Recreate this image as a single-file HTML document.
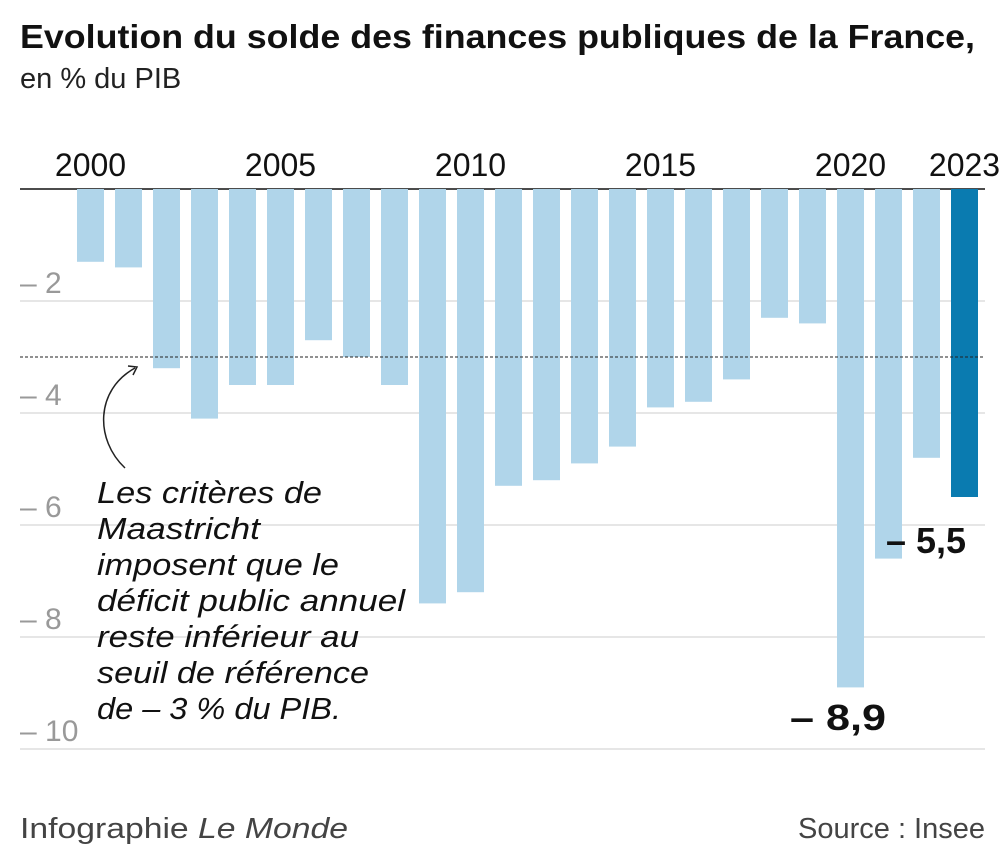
<!DOCTYPE html>
<html><head><meta charset="utf-8">
<style>
body{margin:0;background:#fff;width:1000px;height:851px;overflow:hidden;font-family:"Liberation Sans",sans-serif;}
svg{display:block}
</style></head>
<body>
<svg width="1000" height="851">
<text x="20" y="48" font-size="33" font-weight="bold" fill="#111" textLength="955" lengthAdjust="spacingAndGlyphs">Evolution du solde des finances publiques de la France,</text>
<text x="20" y="88" font-size="29" fill="#222">en % du PIB</text>
<g id="grid"></g>
<g id="bars"></g>
<g id="labels"></g>
<line x1="20" x2="985" y1="357" y2="357" stroke="#222" stroke-width="1" stroke-dasharray="3,2"/>
<path d="M125,468 C95,440 95,390 135,368" fill="none" stroke="#222" stroke-width="1.5"/>
<path d="M128,366 L137,367 L133,375" fill="none" stroke="#222" stroke-width="1.5"/>
<text font-size="31" font-style="italic" fill="#111">
<tspan x="97" y="503" textLength="225" lengthAdjust="spacingAndGlyphs">Les critères de</tspan>
<tspan x="97" y="539" textLength="163" lengthAdjust="spacingAndGlyphs">Maastricht</tspan>
<tspan x="97" y="575" textLength="242" lengthAdjust="spacingAndGlyphs">imposent que le</tspan>
<tspan x="97" y="611" textLength="308" lengthAdjust="spacingAndGlyphs">déficit public annuel</tspan>
<tspan x="97" y="647" textLength="262" lengthAdjust="spacingAndGlyphs">reste inférieur au</tspan>
<tspan x="97" y="683" textLength="272" lengthAdjust="spacingAndGlyphs">seuil de référence</tspan>
<tspan x="97" y="719" textLength="244" lengthAdjust="spacingAndGlyphs">de – 3 % du PIB.</tspan>
</text>
<text x="790" y="730" font-size="36" font-weight="bold" fill="#111" textLength="96" lengthAdjust="spacingAndGlyphs">– 8,9</text>
<text x="886" y="553" font-size="36" font-weight="bold" fill="#111" textLength="80" lengthAdjust="spacingAndGlyphs">– 5,5</text>
<text x="20" y="838" font-size="29" fill="#444" textLength="328" lengthAdjust="spacingAndGlyphs">Infographie <tspan font-style="italic">Le Monde</tspan></text>
<text x="985" y="838" font-size="29" fill="#444" text-anchor="end">Source : Insee</text>
</svg>
<script>
const years=[2000,2001,2002,2003,2004,2005,2006,2007,2008,2009,2010,2011,2012,2013,2014,2015,2016,2017,2018,2019,2020,2021,2022,2023];
const values=[-1.3,-1.4,-3.2,-4.1,-3.5,-3.5,-2.7,-3.0,-3.5,-7.4,-7.2,-5.3,-5.2,-4.9,-4.6,-3.9,-3.8,-3.4,-2.3,-2.4,-8.9,-6.6,-4.8,-5.5];
const yTicks=[-2,-4,-6,-8,-10];
const yearLabels=[2000,2005,2010,2015,2020,2023];
const NS="http://www.w3.org/2000/svg";
const y0=189, unit=56;
function yScale(v){return y0-v*unit;}
function xScale(i){return 77+i*38;}
const bw=27;
const grid=document.getElementById('grid'),bars=document.getElementById('bars'),labels=document.getElementById('labels');
function mk(tag,attrs,parent){const e=document.createElementNS(NS,tag);for(const k in attrs)e.setAttribute(k,attrs[k]);parent.appendChild(e);return e;}
yTicks.forEach(t=>{
  const l=mk('line',{x1:20,x2:985,y1:yScale(t),y2:yScale(t),stroke:'#ccc','stroke-width':1},grid);
  
  
  const tx=mk('text',{x:20,y:yScale(t)-8,'font-size':30,fill:'#999'},grid);
  tx.textContent='– '+Math.abs(t);
  
  
});
values.forEach((v,i)=>{
  const r=mk('rect',{x:xScale(i),y:y0,width:bw,height:yScale(v)-y0,fill:years[i]===2023?'#0a7bb0':'#b0d5ea'},bars);
  
  
});
const zl=mk('line',{x1:20,x2:985,y1:y0,y2:y0,stroke:'#111','stroke-width':1.5},grid);


yearLabels.forEach(yr=>{
  const i=years.indexOf(yr);
  const t=mk('text',{x:xScale(i)+bw/2,y:176,'font-size':32,fill:'#111','text-anchor':'middle'},labels);
  t.textContent=yr;
  
  
});
</script>
</body></html>
